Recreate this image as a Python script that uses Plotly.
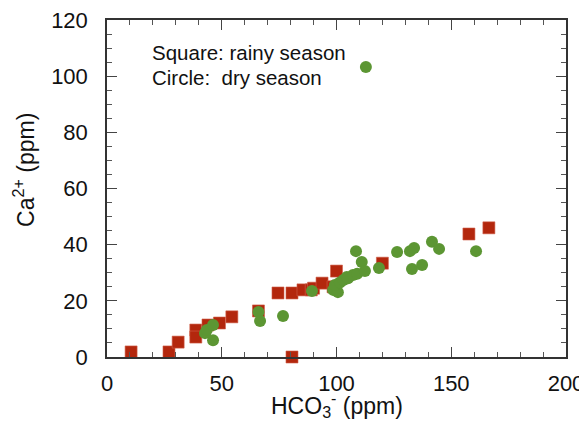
import plotly.graph_objects as go

# Rainy season (squares)
rainy_hco3 = [10.5, 27, 31, 38.7, 38.7, 44, 49, 54.4, 66, 74.5, 80.6, 80.6,
              85.4, 89, 90, 93.7, 98.5, 100, 120, 157.7, 166.4]
rainy_ca = [1.8, 1.8, 5.3, 9.6, 7.1, 11.4, 12.1, 14.3, 16.4, 22.8, 22.8, 0,
            23.9, 23.9, 24.5, 26.3, 25, 30.6, 33.4, 43.8, 46]

# Dry season (circles)
dry_hco3 = [42.7, 43.5, 46.2, 46.2, 66, 66.7, 76.7, 89.3, 98.5, 100.6, 99.3,
            101.5, 103, 104.5, 105, 107.2, 109, 108.5, 111, 112.4, 118.5,
            126.4, 132, 133.8, 132.9, 137.3, 141.6, 144.7, 160.8, 112.8]
dry_ca = [8.5, 9.6, 11.4, 6.0, 16, 12.8, 14.6, 23.5, 23.9, 23.1, 25.6,
          26.5, 27.4, 28.5, 28, 29.2, 29.6, 37.7, 33.8, 30.6, 31.7,
          37.4, 37.7, 38.8, 31.3, 32.8, 41, 38.5, 37.7, 103.3]

x_ticks = [0, 50, 100, 150, 200]
y_ticks = [0, 20, 40, 60, 80, 100, 120]

FONT = "Liberation Sans, Arial, Helvetica, sans-serif"
RED = "#B3270D"
GREEN = "#5C9633"

fig = go.Figure()
fig.add_trace(go.Scatter(
    x=rainy_hco3, y=rainy_ca, mode="markers",
    marker=dict(symbol="square", size=12, color=RED,
                line=dict(width=0.6, color="#D0604A")),
    showlegend=False, cliponaxis=False))
fig.add_trace(go.Scatter(
    x=dry_hco3, y=dry_ca, mode="markers",
    marker=dict(symbol="circle", size=12, color=GREEN,
                line=dict(width=0)),
    showlegend=False, cliponaxis=False))

axis_common = dict(
    showline=True, mirror="ticks", linecolor="#333333", linewidth=1.5,
    ticks="inside", ticklen=10, tickwidth=1.3, tickcolor="#444444",
    showgrid=False, zeroline=False, automargin=False,
    ticklabeloverflow="allow",
    tickfont=dict(family=FONT, size=22, color="#111111"),
)

fig.update_xaxes(range=[0, 200], tickvals=x_ticks,
                 ticktext=[str(v) for v in x_ticks],
                 minor=dict(ticks="inside", dtick=10, ticklen=5,
                            tickwidth=1.2, tickcolor="#555555"),
                 ticklabelstandoff=6, **axis_common)
fig.update_yaxes(range=[0, 120], tickvals=y_ticks,
                 ticktext=[str(v) for v in y_ticks],
                 minor=dict(ticks="inside", dtick=5, ticklen=5,
                            tickwidth=1.2, tickcolor="#555555"),
                 ticklabelstandoff=13, **axis_common)

fig.add_annotation(text="HCO<sub>3</sub><sup>-</sup> (ppm)", xref="paper",
                   yref="paper", x=0.5, y=-0.142, xanchor="center",
                   yanchor="middle", showarrow=False,
                   font=dict(family=FONT, size=23, color="#111111"))
fig.add_annotation(text="Ca<sup>2+</sup> (ppm)", xref="paper", yref="paper",
                   x=-0.181, y=0.555, xanchor="center", yanchor="middle",
                   textangle=-90, showarrow=False,
                   font=dict(family=FONT, size=23, color="#111111"))

fig.add_annotation(text="Square: rainy season", xref="x", yref="y",
                   x=18.7, y=108.3, xanchor="left", yanchor="middle",
                   showarrow=False,
                   font=dict(family=FONT, size=20.5, color="#111111"))
fig.add_annotation(text="Circle:\u00a0 dry season", xref="x", yref="y",
                   x=18.7, y=99.7, xanchor="left", yanchor="middle",
                   showarrow=False,
                   font=dict(family=FONT, size=20.5, color="#111111"))

fig.update_layout(
    width=587, height=430,
    margin=dict(l=99, r=29, t=12, b=81),
    plot_bgcolor="white", paper_bgcolor="white",
)

fig.write_html("out.html")
